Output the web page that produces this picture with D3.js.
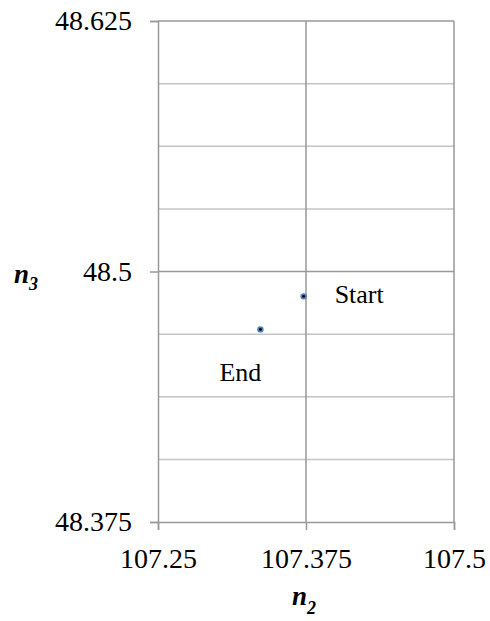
<!DOCTYPE html>
<html>
<head>
<meta charset="utf-8">
<script src="https://cdn.jsdelivr.net/npm/d3@7"></script>
<style>
  body { margin: 0; background: #fff; }
  svg { display: block; }
  svg text { font-family: "Liberation Serif", "Times New Roman", serif; fill: #000; }
</style>
</head>
<body>
<svg id="chart" width="490" height="621"></svg>
<script>
const xTicks = [107.25, 107.375, 107.5];
const yMajor = [48.375, 48.5, 48.625];
const yGrid = [48.40625, 48.4375, 48.46875, 48.5, 48.53125, 48.5625, 48.59375, 48.625];
const pointLabels = ["Start", "End"];
const pointX = [107.373, 107.3365];
const pointY = [48.4876, 48.4711];

const svg = d3.select("#chart");
const margin = { left: 158, right: 36, top: 21, bottom: 99 };
const width = 490, height = 621;

const x = d3.scaleLinear().domain([107.25, 107.5]).range([margin.left, width - margin.right]);
const y = d3.scaleLinear().domain([48.375, 48.625]).range([height - margin.bottom, margin.top]);

// horizontal gridlines (minor lighter, major darker)
svg.append("g")
  .selectAll("line")
  .data(yGrid)
  .join("line")
  .attr("x1", x(107.25))
  .attr("x2", x(107.5))
  .attr("y1", (d) => y(d))
  .attr("y2", (d) => y(d))
  .attr("stroke", (d) => (yMajor.includes(d) ? "#999" : "#c4c4c4"))
  .attr("stroke-width", 1.5);

// vertical gridlines
svg.append("g")
  .selectAll("line")
  .data(xTicks.slice(1))
  .join("line")
  .attr("x1", (d) => x(d))
  .attr("x2", (d) => x(d))
  .attr("y1", y(48.625))
  .attr("y2", y(48.375))
  .attr("stroke", "#999")
  .attr("stroke-width", 1.5);

const yAxis = d3.axisLeft(y).tickValues(yMajor).tickSize(8).tickPadding(18)
  .tickFormat((d) => d3.format("")(d));
const gy = svg.append("g").attr("transform", `translate(${x(107.25)},0)`).call(yAxis);
gy.attr("font-family", null);
gy.select(".domain").attr("stroke", "#999").attr("stroke-width", 1.5);
gy.selectAll(".tick line").attr("stroke", "#999").attr("stroke-width", 1.5);
gy.selectAll(".tick text").style("font-size", "28px");

const xAxis = d3.axisBottom(x).tickValues(xTicks).tickSize(8).tickPadding(18)
  .tickFormat((d) => d3.format("")(d));
const gx = svg.append("g").attr("transform", `translate(0,${y(48.375)})`).call(xAxis);
gx.attr("font-family", null);
gx.select(".domain").attr("stroke", "#999").attr("stroke-width", 1.5);
gx.selectAll(".tick line").attr("stroke", "#999").attr("stroke-width", 1.5);
gx.selectAll(".tick text").style("font-size", "28px");

// points
const pts = svg.append("g").selectAll("g").data(pointX.map((d, i) => i)).join("g")
  .attr("transform", (i) => `translate(${x(pointX[i])},${y(pointY[i])})`);
pts.append("circle").attr("r", 3.2).attr("fill", "#4f81bd");
pts.append("circle").attr("r", 1.4).attr("fill", "#000");

// point labels
const labelOffset = [[31, 7], [-41, 52]];
svg.append("g").selectAll("text").data(pointLabels).join("text")
  .attr("x", (d, i) => x(pointX[i]) + labelOffset[i][0])
  .attr("y", (d, i) => y(pointY[i]) + labelOffset[i][1])
  .style("font-size", "26px")
  .text((d) => d);

// axis titles
const t2 = svg.append("text").attr("x", 292).attr("y", 605)
  .style("font-size", "27px").style("font-weight", "bold").style("font-style", "italic");
t2.append("tspan").text("n");
t2.append("tspan").style("font-size", "18px").attr("dy", 9).text("2");

const t3 = svg.append("text").attr("x", 14).attr("y", 283)
  .style("font-size", "27px").style("font-weight", "bold").style("font-style", "italic");
t3.append("tspan").text("n");
t3.append("tspan").style("font-size", "18px").attr("dy", 7).text("3");
</script>
</body>
</html>
